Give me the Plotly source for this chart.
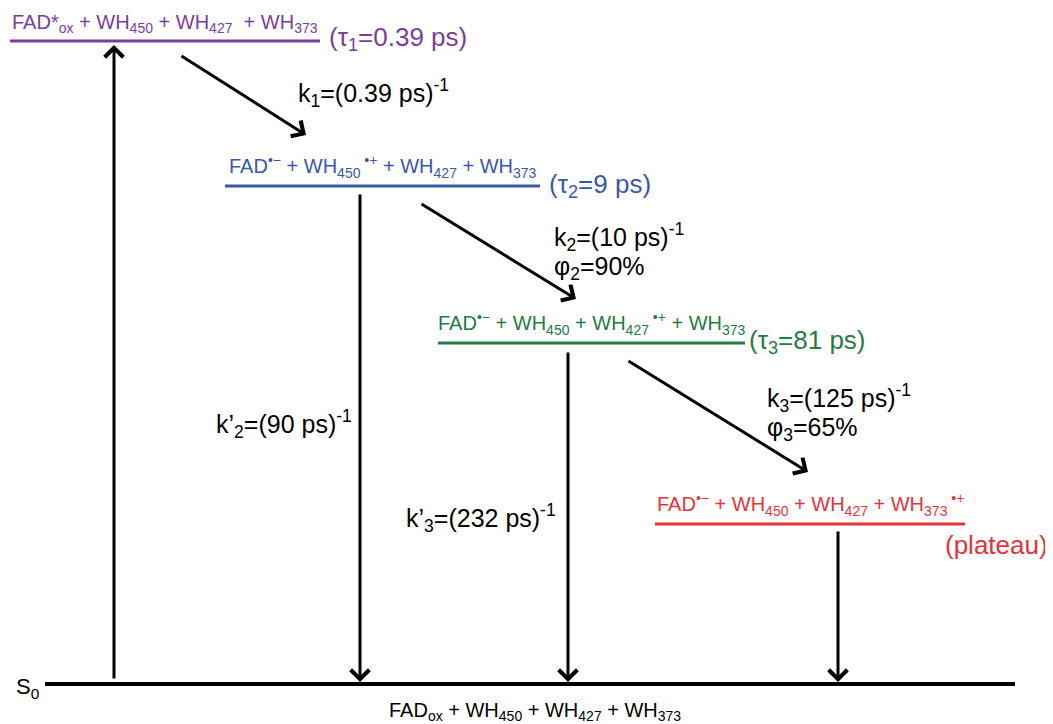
import plotly.graph_objects as go

# ---------------- data ----------------
state_labels = [
    "FAD*<sub>ox</sub> + WH<sub>450</sub> + WH<sub>427</sub>  + WH<sub>373</sub>",
    "FAD<sup>•−</sup> + WH<sub>450</sub><sup> •+</sup> + WH<sub>427</sub> + WH<sub>373</sub>",
    "FAD<sup>•−</sup> + WH<sub>450</sub> + WH<sub>427</sub><sup> •+</sup> + WH<sub>373</sub>",
    "FAD<sup>•−</sup> + WH<sub>450</sub> + WH<sub>427</sub> + WH<sub>373</sub><sup> •+</sup>",
]
lifetime_labels = ["(τ<sub>1</sub>=0.39 ps)", "(τ<sub>2</sub>=9 ps)", "(τ<sub>3</sub>=81 ps)", "(plateau)"]
forward_rates = ["k<sub>1</sub>=(0.39 ps)<sup>-1</sup>", "k<sub>2</sub>=(10 ps)<sup>-1</sup>", "k<sub>3</sub>=(125 ps)<sup>-1</sup>"]
yields = ["", "φ<sub>2</sub>=90%", "φ<sub>3</sub>=65%"]
decay_rates = ["k’<sub>2</sub>=(90 ps)<sup>-1</sup>", "k’<sub>3</sub>=(232 ps)<sup>-1</sup>"]
ground_label = "FAD<sub>ox</sub> + WH<sub>450</sub> + WH<sub>427</sub> + WH<sub>373</sub>"
ground_name = "S<sub>0</sub>"

# ---------------- layout (drawing positions) ----------------
level_colors = ["#7b3d9c", "#3b58a8", "#267a44", "#e5323a"]
level_x0 = [10, 225, 438, 655]
level_x1 = [320, 540, 745, 965]
level_y = [41, 186, 343, 524]
ground_y = 684
FONT = "Liberation Sans, Arial, sans-serif"
OFF = 8  # page body margin

fig = go.Figure()
shapes = []
ann = []

for i in range(4):
    shapes.append(dict(type="line", xref="x", yref="y", x0=level_x0[i], x1=level_x1[i],
                       y0=level_y[i], y1=level_y[i], line=dict(color=level_colors[i], width=3)))
    ann.append(dict(x=(level_x0[i] + level_x1[i]) / 2, y=level_y[i] - 3, xref="x", yref="y",
                    text=state_labels[i], showarrow=False, xanchor="center", yanchor="bottom",
                    font=dict(family=FONT, size=20, color=level_colors[i])))

# lifetimes
life_pos = [(327, 38, "left"), (547, 185, "left"), (747, 341, "left"), (1050, 545, "right")]
for i, (x, y, xa) in enumerate(life_pos):
    ann.append(dict(x=x, y=y, xref="x", yref="y", text=lifetime_labels[i], showarrow=False,
                    xanchor=xa, yanchor="middle", font=dict(family=FONT, size=26, color=level_colors[i])))

# ground
shapes.append(dict(type="line", xref="x", yref="y", x0=45, x1=1015, y0=ground_y, y1=ground_y,
                   line=dict(color="black", width=4)))
ann.append(dict(x=14, y=688, xref="x", yref="y", text=ground_name, showarrow=False,
                xanchor="left", yanchor="middle", font=dict(family=FONT, size=22, color="black")))
ann.append(dict(x=535, y=711, xref="x", yref="y", text=ground_label, showarrow=False,
                xanchor="center", yanchor="middle", font=dict(family=FONT, size=20, color="black")))

# arrows: (tail x, tail y, head x, head y)
arrows = [
    (114, 680, 114, 45),
    (180, 55, 306, 135),
    (420, 203, 576, 299),
    (627, 360, 808, 472),
    (360, 193, 360, 682),
    (568, 351, 568, 682),
    (838, 530, 838, 682),
]
for (tx, ty, hx, hy) in arrows:
    ann.append(dict(x=hx, y=hy, ax=tx, ay=ty, xref="x", yref="y", axref="x", ayref="y",
                    text="", showarrow=True, arrowhead=4, arrowsize=1.2, arrowwidth=3,
                    arrowcolor="black", standoff=0, startstandoff=0))

# rate labels
fwd_pos = [(296, 93), (552, 237), (765, 398)]
for i, (x, y) in enumerate(fwd_pos):
    ann.append(dict(x=x, y=y, xref="x", yref="y", text=forward_rates[i], showarrow=False,
                    xanchor="left", yanchor="middle", font=dict(family=FONT, size=25, color="black")))
    if yields[i]:
        ann.append(dict(x=x, y=y + 31, xref="x", yref="y", text=yields[i], showarrow=False,
                        xanchor="left", yanchor="middle", font=dict(family=FONT, size=25, color="black")))
dec_pos = [(354, 424), (558, 518)]
for i, (x, y) in enumerate(dec_pos):
    ann.append(dict(x=x, y=y, xref="x", yref="y", text=decay_rates[i], showarrow=False,
                    xanchor="right", yanchor="middle", font=dict(family=FONT, size=25, color="black")))

fig.update_layout(
    width=1053 - OFF, height=724 - OFF, margin=dict(l=0, r=0, t=0, b=0),
    paper_bgcolor="white", plot_bgcolor="white",
    xaxis=dict(range=[OFF, 1053], visible=False, fixedrange=True),
    yaxis=dict(range=[724, OFF], visible=False, fixedrange=True),
    shapes=shapes, annotations=ann, showlegend=False,
)
fig.write_html("out.html")
